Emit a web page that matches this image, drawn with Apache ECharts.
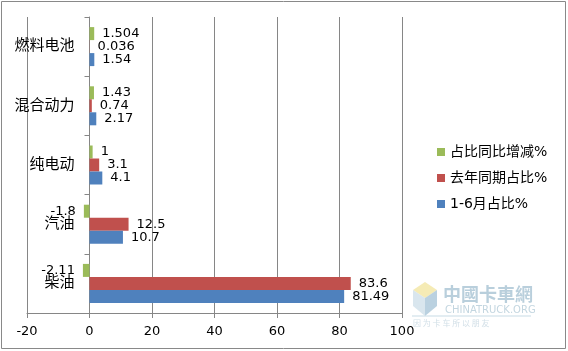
<!DOCTYPE html>
<html>
<head>
<meta charset="utf-8">
<script src="https://cdn.jsdelivr.net/npm/echarts@6/dist/echarts.min.js"></script>
<style>
html, body { margin: 0; padding: 0; background: #fff; }
#main { width: 568px; height: 351px; }
</style>
</head>
<body>
<div id="main"></div>
<script>
// 燃料类型 (自下而上)
var categories = ['柴油', '汽油', '纯电动', '混合动力', '燃料电池'];
var seriesNames = ['占比同比增减%', '去年同期占比%', '1-6月占比%'];
var changeData = [-2.11, -1.8, 1, 1.43, 1.504];
var lastYearData = [83.6, 12.5, 3.1, 0.74, 0.036];
var thisYearData = [81.49, 10.7, 4.1, 2.17, 1.54];
var xTicks = { min: -20, max: 100, interval: 20 };

var colors = ['#9BBB59', '#C0504D', '#4F81BD'];
var font = '"DejaVu Sans", "Noto Sans CJK SC", sans-serif';

var gridLeft = 27, gridRight = 166;
// 纵轴放在 x=0 处
var zeroOffset = (568 - gridLeft - gridRight) * (0 - xTicks.min) / (xTicks.max - xTicks.min);

function withLabels(arr) {
	return arr.map(function(v) {
		return {
			value: v,
			label: { position: v < 0 ? 'left' : 'right' }
		};
	});
}

function makeSeries(name, arr, color) {
	return {
		name: name,
		type: 'bar',
		barWidth: 13,
		barGap: '0%',
		itemStyle: { color: color },
		label: {
			show: true,
			distance: 8,
			color: '#000',
			fontSize: 13,
			fontFamily: font
		},
		data: withLabels(arr)
	};
}

var chart = echarts.init(document.getElementById('main'));

option = {
	animation: false,
	textStyle: { fontFamily: font },
	grid: { left: gridLeft, right: gridRight, top: 17, bottom: 38, containLabel: false, outerBoundsMode: 'none' },
	legend: {
		orient: 'vertical',
		left: 432,
		top: 140,
		itemWidth: 8,
		itemHeight: 8,
		itemGap: 12,
		icon: 'rect',
		data: seriesNames,
		textStyle: { fontSize: 14, color: '#000', fontFamily: font }
	},
	xAxis: {
		type: 'value',
		min: xTicks.min,
		max: xTicks.max,
		interval: xTicks.interval,
		axisLine: { show: true, lineStyle: { color: '#868686' } },
		axisTick: { show: true, length: 5, lineStyle: { color: '#868686' } },
		axisLabel: { color: '#000', fontSize: 13, margin: 12 },
		splitLine: { show: true, lineStyle: { color: '#868686' } }
	},
	yAxis: {
		type: 'category',
		data: categories,
		offset: -zeroOffset,
		axisLine: { show: true, onZero: false, lineStyle: { color: '#868686' } },
		axisTick: { show: true, length: 5, lineStyle: { color: '#868686' } },
		axisLabel: { color: '#000', fontSize: 15, margin: 15 }
	},
	graphic: [
		{
			type: 'rect',
			shape: { x: 1.5, y: 1.5, width: 564, height: 347 },
			style: { fill: 'none', stroke: '#898989', lineWidth: 1 },
			silent: true
		},
		{
			type: 'polygon',
			shape: { points: [[413, 290], [425, 282], [437, 290], [425, 298]] },
			style: { fill: '#f3e6a2', opacity: 0.8 }
		},
		{
			type: 'polygon',
			shape: { points: [[413, 290], [425, 298], [425, 316], [413, 306]] },
			style: { fill: '#cfe0ea', opacity: 0.8 }
		},
		{
			type: 'polygon',
			shape: { points: [[425, 298], [437, 290], [437, 306], [425, 316]] },
			style: { fill: '#a9c6d8', opacity: 0.8 }
		},
		{
			type: 'text',
			left: 443, top: 285,
			style: { text: '中國卡車網', fill: '#b9cfdc', font: 'bold 18px "Noto Sans CJK TC"' }
		},
		{
			type: 'text',
			left: 445, top: 305,
			style: { text: 'CHINATRUCK.ORG', fill: '#c3d6e0', font: '10px "DejaVu Sans"' }
		},
		{
			type: 'line',
			shape: { x1: 412, y1: 316, x2: 531, y2: 316 },
			style: { stroke: '#c7dbe5', lineWidth: 1 }
		},
		{
			type: 'text',
			left: 413, top: 319,
			style: { text: '因 为 卡 车 所 以 朋 友', fill: '#d3e0e8', font: '8px "Noto Sans CJK SC"' }
		}
	],
	series: [
		makeSeries(seriesNames[0], changeData, colors[0]),
		makeSeries(seriesNames[1], lastYearData, colors[1]),
		makeSeries(seriesNames[2], thisYearData, colors[2])
	]
};

chart.setOption(option);
</script>
</body>
</html>
